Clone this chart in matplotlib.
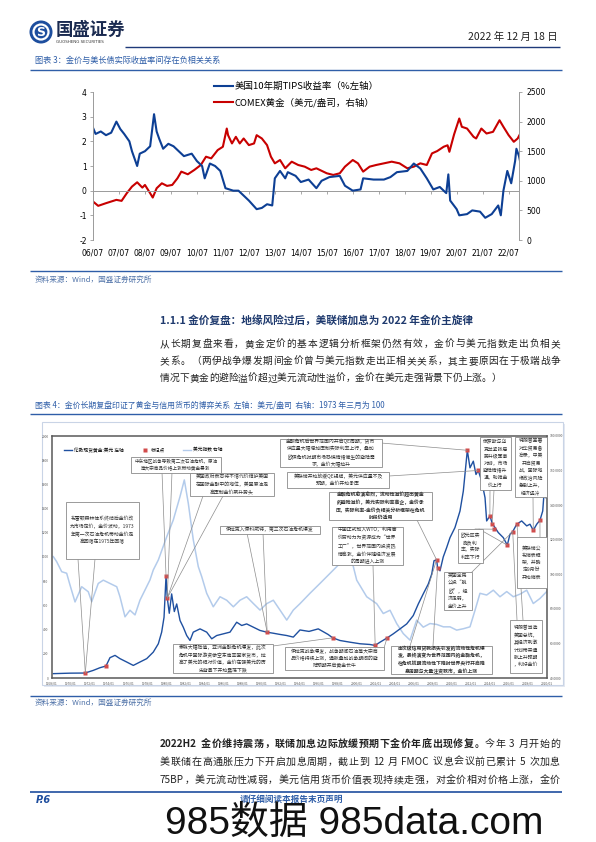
import matplotlib
matplotlib.use('Agg')
import matplotlib.pyplot as plt
from matplotlib.patches import Rectangle, Circle
from matplotlib.lines import Line2D

# ---------------------------------------------------------------
# 字体
# ---------------------------------------------------------------
CJK = ['Noto Sans CJK SC', 'DejaVu Sans']
plt.rcParams['font.family'] = CJK
plt.rcParams['axes.unicode_minus'] = False

# ---------------------------------------------------------------
# 数据: 图表3 (美国10年期TIPS收益率 / COMEX黄金)
# ---------------------------------------------------------------
tips_year = [2006.5, 2006.6, 2006.8, 2007.0, 2007.2, 2007.4, 2007.55, 2007.7, 2007.9, 2008.0,
             2008.1, 2008.2, 2008.3, 2008.5, 2008.7, 2008.85, 2008.95, 2009.05, 2009.2, 2009.4,
             2009.6, 2009.8, 2010.0, 2010.3, 2010.5, 2010.7, 2010.8, 2011.0, 2011.2, 2011.4,
             2011.6, 2011.9, 2012.1, 2012.3, 2012.5, 2012.8, 2013.0, 2013.2, 2013.4, 2013.5,
             2013.7, 2013.9, 2014.0, 2014.3, 2014.5, 2014.8, 2015.1, 2015.3, 2015.6, 2016.0,
             2016.2, 2016.5, 2016.8, 2016.9, 2017.3, 2017.7, 2017.95, 2018.2, 2018.6, 2018.85,
             2019.1, 2019.35, 2019.6, 2019.85, 2020.1, 2020.18, 2020.25, 2020.5, 2020.6, 2020.9,
             2021.1, 2021.4, 2021.6, 2021.85, 2022.1, 2022.2, 2022.3, 2022.45, 2022.6, 2022.75,
             2022.8, 2022.9, 2022.95]
tips_val = [2.55, 2.3, 2.4, 2.25, 2.35, 2.8, 2.5, 2.3, 2.0, 1.6,
            1.3, 1.0, 1.5, 1.6, 1.8, 3.1, 2.4, 2.1, 1.7, 1.9,
            1.8, 1.6, 1.4, 1.5, 1.2, 1.0, 0.5, 1.1, 1.0, 0.8,
            0.1, 0.0, 0.0, -0.2, -0.4, -0.75, -0.7, -0.55, -0.6, 0.5,
            0.8, 0.5, 0.75, 0.6, 0.35, 0.45, 0.1, 0.4, 0.55, 0.6,
            0.2, 0.0, 0.05, 0.5, 0.45, 0.45, 0.55, 0.75, 0.8, 1.1,
            0.9, 0.5, 0.05, 0.15, -0.1, 0.66, -0.4, -0.75, -1.0, -0.95,
            -0.8, -0.85, -1.1, -0.95, -0.6, -1.0, 0.0, 0.8, 0.3, 1.2,
            1.7, 1.4, 1.15]

comex_year = [2006.5, 2006.7, 2007.0, 2007.4, 2007.6, 2007.8, 2008.0, 2008.2, 2008.4, 2008.5,
              2008.7, 2008.8, 2008.95, 2009.15, 2009.35, 2009.55, 2009.75, 2009.9, 2010.15, 2010.4,
              2010.65, 2010.85, 2011.05, 2011.3, 2011.5, 2011.65, 2011.7, 2011.85, 2012.0, 2012.15,
              2012.3, 2012.5, 2012.7, 2012.8, 2013.0, 2013.2, 2013.35, 2013.5, 2013.7, 2013.9,
              2014.15, 2014.4, 2014.65, 2014.9, 2015.1, 2015.5, 2015.75, 2016.0, 2016.2, 2016.5,
              2016.7, 2016.9, 2017.15, 2017.4, 2017.7, 2018.0, 2018.3, 2018.6, 2018.85, 2019.1,
              2019.35, 2019.55, 2019.75, 2020.0, 2020.15, 2020.22, 2020.4, 2020.6, 2020.7, 2020.9,
              2021.15, 2021.25, 2021.45, 2021.65, 2021.9, 2022.15, 2022.3, 2022.5, 2022.7, 2022.85,
              2022.95]
comex_val = [650, 577, 622, 678, 661, 790, 902, 975, 885, 930,
             790, 717, 874, 958, 914, 930, 1042, 1155, 1110, 1183,
             1267, 1407, 1379, 1519, 1575, 1883, 1771, 1631, 1743, 1631,
             1715, 1603, 1631, 1771, 1715, 1603, 1407, 1295, 1351, 1211,
             1323, 1267, 1239, 1183, 1211, 1127, 1099, 1127, 1239, 1351,
             1295, 1155, 1239, 1267, 1295, 1323, 1295, 1211, 1239, 1295,
             1267, 1463, 1502, 1575, 1600, 1490, 1782, 2052, 1912, 1883,
             1743, 1715, 1883, 1799, 1827, 2023, 1912, 1771, 1659, 1715,
             1799]

c1_xticks = [2006.5 + k for k in range(17)]
c1_xlabels = ['%02d/07' % (6 + k) for k in range(17)]

# ---------------------------------------------------------------
# 数据: 图表4 (伦敦现货黄金 / 美元指数 / 标记点)
# ---------------------------------------------------------------
gold_year = [1968.14, 1969.9, 1971.47, 1972.34, 1973.04, 1973.67, 1974.09, 1974.62, 1975.14, 1975.85,
             1976.54, 1977.24, 1977.95, 1978.64, 1979.17, 1979.52, 1979.77, 1979.98, 1980.11, 1980.32,
             1980.57, 1980.85, 1981.1, 1981.45, 1981.79, 1982.15, 1982.5, 1982.84, 1983.55, 1984.25,
             1984.78, 1985.3, 1986.0, 1986.7, 1987.4, 1987.93, 1988.45, 1989.15, 1989.85, 1990.55,
             1991.25, 1991.95, 1992.66, 1993.35, 1994.05, 1995.0, 1995.97, 1997.0, 1997.49, 1998.25,
             1999.3, 2000.36, 2001.4, 2001.93, 2002.46, 2003.22, 2003.85, 2004.56, 2005.26, 2005.95,
             2006.48, 2007.0, 2007.53, 2007.89, 2008.13, 2008.41, 2008.5, 2008.76, 2009.1, 2009.46,
             2009.81, 2010.33, 2010.86, 2011.21, 2011.63, 2011.91, 2012.26, 2012.54, 2012.78, 2013.14,
             2013.49, 2013.66, 2014.01, 2014.25, 2014.54, 2014.88, 2015.41, 2015.83, 2016.11, 2016.4,
             2016.82, 2017.34, 2017.87, 2018.21, 2018.56, 2018.92, 2019.26, 2019.55, 2019.68, 2019.89]
gold_val = [36, 40, 41, 63, 85, 99, 168, 187, 160, 132,
            104, 132, 160, 214, 283, 379, 502, 845, 661, 535,
            695, 549, 612, 475, 420, 351, 310, 379, 406, 379,
            324, 351, 365, 379, 461, 434, 447, 420, 393, 379,
            370, 360, 351, 338, 397, 385, 406, 360, 332, 310,
            296, 283, 277, 269, 296, 332, 365, 406, 447, 516,
            612, 695, 777, 859, 969, 977, 913, 886, 1000, 1078,
            1160, 1243, 1380, 1545, 1882, 1737, 1792, 1682, 1715, 1627,
            1490, 1298, 1340, 1276, 1243, 1202, 1160, 1098, 1188, 1210,
            1271, 1298, 1257, 1271, 1221, 1271, 1304, 1380, 1518, 1490]

dxy_year = [1971.14, 1971.49, 1972.02, 1972.54, 1972.89, 1973.42, 1974.12, 1974.81, 1975.17, 1975.86,
            1976.39, 1977.09, 1977.8, 1978.14, 1978.67, 1979.19, 1979.72, 1980.24, 1980.77, 1981.29,
            1981.64, 1982.17, 1983.05, 1983.74, 1984.45, 1984.9, 1985.32, 1985.84, 1986.37, 1986.73,
            1987.25, 1987.94, 1988.65, 1989.35, 1990.05, 1990.75, 1991.45, 1992.15, 1992.85, 1993.55,
            1994.25, 1994.95, 1995.66, 1996.35, 1997.05, 1998.1, 1999.15, 2000.2, 2001.25, 2002.13,
            2003.01, 2004.06, 2005.11, 2005.8, 2006.51, 2007.21, 2007.9, 2008.61, 2009.31, 2010.0,
            2010.71, 2011.41, 2012.11, 2012.81, 2013.51, 2014.21, 2014.91, 2015.44, 2015.96, 2016.66,
            2017.36, 2018.06, 2018.77, 2019.46, 2020.16, 2020.87, 2021.56, 2022.26, 2022.97]
dxy_val = [110.2, 107.3, 101.5, 100.6, 93.8, 84, 92.8, 89.9, 84.1, 94.7,
           96.6, 94.7, 92.8, 87, 75.4, 79.2, 76.5, 85, 90.9, 96.7,
           102.5, 108.3, 121.7, 131.4, 145, 154.6, 141, 120, 104.4, 98.6,
           89, 81.2, 87, 85, 81.2, 85, 87, 83.1, 79.3, 83,
           85, 79.3, 73.5, 79.3, 83, 89, 94.7, 100.5, 106.3, 116,
           96.6, 87, 83, 77.3, 79.2, 71.5, 65.7, 61.9, 73.5, 69.4,
           71.5, 71, 69.6, 69.6, 67.7, 68.5, 69.6, 79.2, 89, 88,
           90.8, 87, 90, 87, 88.5, 90.8, 83.1, 86, 90]

mark_year = [1971.5, 1973.7, 1979.98, 1980.11, 1990.6, 1997.5, 2001.95, 2003.2, 2008.4, 2008.5,
             2011.63, 2012.78, 2014.0, 2014.25, 2014.4, 2015.83, 2016.4, 2016.85, 2018.56, 2019.26]
mark_val = [41, 99, 845, 661, 380, 332, 269, 332, 977, 913,
            1882, 1715, 1340, 1276, 1230, 1098, 1210, 1271, 1221, 1304]

c2_xticks = list(range(1968, 2021, 2))
c2_xlabels = ['%d/01' % y for y in c2_xticks]

# 颜色
BLUE_T = '#2f5ea8'
NAVY = '#1f3a6e'
C1_BLUE = '#0d3f94'
C1_RED = '#c80000'
G_BLUE = '#1f50a0'
D_BLUE = '#b3cbeb'
M_RED = '#d24b4b'

# ---------------------------------------------------------------
# 画布 (像素坐标: 596 x 842)
# ---------------------------------------------------------------
W, H = 596, 842
fig = plt.figure(figsize=(W / 100, H / 100), dpi=100)
pg = fig.add_axes([0, 0, 1, 1])
pg.set_xlim(0, W)
pg.set_ylim(H, 0)
pg.axis('off')
pg.set_zorder(10)
renderer = fig.canvas.get_renderer()


def rect_axes(x0, y0, x1, y1):
    return fig.add_axes([x0 / W, 1 - y1 / H, (x1 - x0) / W, (y1 - y0) / H])


def tokens(s):
    out, buf = [], ''
    for ch in s:
        if ch.isascii() and (ch.isalnum() or ch in '.%'):
            buf += ch
        else:
            if buf:
                out.append(buf)
                buf = ''
            out.append(ch)
    if buf:
        out.append(buf)
    return out


def jline(parts, x0, x1, y, fs, color='#222222', justify=True):
    """两端对齐的一行文字"""
    items = []
    for s, wt in parts:
        for t in tokens(s):
            if t == ' ':
                items.append((None, fs * 1.39 * 0.28))
                continue
            txt = pg.text(0, y, t, fontsize=fs, fontweight=wt, color=color,
                          ha='left', va='center')
            items.append((txt, txt.get_window_extent(renderer).width))
    total = sum(w for _, w in items)
    gap = (x1 - x0 - total) / (len(items) - 1) if justify else 0
    x = x0
    for txt, w in items:
        if txt is not None:
            txt.set_x(x)
        x += w + gap


# ---------------------------------------------------------------
# 页眉
# ---------------------------------------------------------------
pg.add_patch(Circle((41, 32), 11.5, fc='#1d4e9e', ec='none'))
pg.add_patch(Circle((41, 32), 7.5, fc='none', ec='white', lw=1.6))
pg.text(41, 32.5, 'S', color='white', fontsize=9, fontweight='bold', ha='center', va='center',
        family='DejaVu Sans')
pg.text(56, 30, '国盛证券', fontsize=12.5, fontweight='bold', color='#1a2a50', va='center')
pg.text(56, 42, 'GUOSHENG SECURITIES', fontsize=2.9, color='#333333', va='center', family='DejaVu Sans')
pg.text(558, 37, '2022 年 12 月 18 日', fontsize=7.5, color='#222222', ha='right', va='center')
pg.hlines(47, 125, 560, color='#1f3a7a', lw=1.0)

pg.text(35, 60, '图表 3：金价与美长债实际收益率间存在负相关关系', fontsize=5.9, color=BLUE_T, va='center')
pg.hlines(70, 30, 562, color='#2f5ea8', lw=1.0)

# ---------------------------------------------------------------
# 图表3
# ---------------------------------------------------------------
ax1 = rect_axes(93, 92, 519, 240)
ax1.plot(tips_year, tips_val, color=C1_BLUE, lw=1.5, label='美国10年期TIPS收益率（%左轴）')
ax1.set_xlim(2006.5, 2022.9)
ax1.set_ylim(-2, 4)
ax1.set_yticks(range(-2, 5))
ax1.set_xticks(c1_xticks)
ax1.set_xticklabels(c1_xlabels)
ax1.axhline(0, color='#9a9a9a', lw=0.7, zorder=0)
for s in ['top', 'bottom', 'right']:
    ax1.spines[s].set_visible(False)
ax1.spines['left'].set_color('#9a9a9a')
ax1.spines['left'].set_linewidth(0.7)
ax1.tick_params(axis='y', length=2.5, width=0.6, color='#9a9a9a', labelsize=5.5, pad=2)
ax1.tick_params(axis='x', length=0, labelsize=5.5, pad=6)
for lab in ax1.get_xticklabels() + ax1.get_yticklabels():
    lab.set_family('DejaVu Sans')
sec = ax1.secondary_xaxis(1 / 3)
sec.set_xticks(c1_xticks)
sec.set_xticklabels([])
sec.spines['bottom'].set_visible(False)
sec.tick_params(length=2.5, width=0.6, color='#9a9a9a', direction='out')

ax1r = ax1.twinx()
ax1r.plot(comex_year, comex_val, color=C1_RED, lw=1.5, label='COMEX黄金（美元/盎司，右轴）')
ax1r.set_ylim(0, 2500)
ax1r.set_yticks(range(0, 2501, 500))
for s in ['top', 'bottom', 'left']:
    ax1r.spines[s].set_visible(False)
ax1r.spines['right'].set_color('#9a9a9a')
ax1r.spines['right'].set_linewidth(0.7)
ax1r.tick_params(axis='y', length=2.5, width=0.6, color='#9a9a9a', labelsize=5.5, pad=3)
for lab in ax1r.get_yticklabels():
    lab.set_family('DejaVu Sans')
ax1.set_zorder(ax1r.get_zorder() + 1)
ax1.patch.set_visible(False)

h1, l1 = ax1.get_legend_handles_labels()
h2, l2 = ax1r.get_legend_handles_labels()
fig.legend(h1 + h2, l1 + l2, loc='upper left', bbox_to_anchor=(209 / W, 1 - 77 / H),
           bbox_transform=fig.transFigure, frameon=False, fontsize=6.8, handlelength=2.0,
           handletextpad=0.2, labelspacing=0.75, borderpad=0)

pg.hlines(271, 30, 562, color='#2f5ea8', lw=1.0)
pg.text(35, 280, '资料来源：Wind，国盛证券研究所', fontsize=5.5, color='#4f72a8', va='center')

# ---------------------------------------------------------------
# 正文 1
# ---------------------------------------------------------------
pg.text(160, 320, '1.1.1 金价复盘：地缘风险过后，美联储加息为 2022 年金价主旋律', fontsize=7.7,
        fontweight='bold', color=NAVY, va='center')
jline([('从长期复盘来看，黄金定价的基本逻辑分析框架仍然有效，金价与美元指数走出负相关', 'normal')],
      160, 560, 344, 7.0)
jline([('关系。（两伊战争爆发期间金价曾与美元指数走出正相关关系，其主要原因在于极端战争', 'normal')],
      160, 560, 361, 7.0)
jline([('情况下黄金的避险溢价超过美元流动性溢价，金价在美元走强背景下仍上涨。）', 'normal')],
      160, 560, 378, 7.0, justify=False)

pg.text(35, 405, '图表 4：金价长期复盘印证了黄金与信用货币的博弈关系  左轴：美元/盎司  右轴：1973 年三月为 100',
        fontsize=5.7, color=BLUE_T, va='center')
pg.hlines(414, 30, 562, color='#2f5ea8', lw=1.0)

# ---------------------------------------------------------------
# 图表4
# ---------------------------------------------------------------
fig.patches.append(Rectangle((44 / W, 1 - 687 / H), 521 / W, 263 / H, transform=fig.transFigure,
                             fc='#e4e9f1', ec='none', zorder=-2))
fig.patches.append(Rectangle((42 / W, 1 - 685 / H), 521 / W, 263 / H, transform=fig.transFigure,
                             fc='white', ec='#c9d4e6', lw=0.8, zorder=-1))

ax = rect_axes(52, 436, 547, 678)
axr = ax.twinx()
axd = axr.twiny()
axd.plot(dxy_year, dxy_val, color=D_BLUE, lw=1.1)
axd.set_xlim(1971, 2023)
axr.set_ylim(40, 180)
axd.set_xticks([])
axd.tick_params(top=False, labeltop=False)
for a in (axr, axd):
    a.patch.set_visible(False)
    for s in a.spines.values():
        s.set_visible(False)
axr.set_yticks(range(40, 181, 20))
axr.set_yticklabels(['%.4f' % v for v in range(40, 181, 20)])
axr.tick_params(axis='y', length=0, labelsize=2.4, pad=2, labelcolor='#555555')

ax.plot(gold_year, gold_val, color=G_BLUE, lw=1.0)
ax.plot(mark_year, mark_val, 's', color=M_RED, ms=2.4, mec='none')
ax.set_xlim(1968, 2020)
ax.set_ylim(0, 2000)
ax.set_yticks(range(0, 2001, 200))
ax.set_xticks(c2_xticks)
ax.set_xticklabels(c2_xlabels)
ax.tick_params(length=0, labelsize=2.3, labelcolor='#555555', pad=2.5)
for s in ax.spines.values():
    s.set_color('#595959')
    s.set_linewidth(1.1)
ax.set_zorder(axd.get_zorder() + 1)
ax.patch.set_visible(False)

leg_h = [Line2D([], [], color=G_BLUE, lw=1.0),
         Line2D([], [], marker='s', ls='none', color=M_RED, ms=2.4, mec='none'),
         Line2D([], [], color=D_BLUE, lw=1.0)]
ax.legend(leg_h, ['伦敦现货黄金:美元 左轴', '标记点', '美元指数 右轴'], loc='upper left',
          bbox_to_anchor=(62 / W, 1 - 445 / H), bbox_transform=fig.transFigure, ncol=3,
          frameon=False, fontsize=3.4, handlelength=1.6, columnspacing=3.8, borderpad=0,
          handletextpad=0.4)


def note(x0, y0, x1, y1, lines, fs=3.5, bold=False):
    pg.add_patch(Rectangle((x0, y0), x1 - x0, y1 - y0, fc='white', ec='#8a8a8a', lw=0.6))
    pg.text((x0 + x1) / 2, (y0 + y1) / 2, '\n'.join(lines), fontsize=fs, ha='center', va='center',
            linespacing=1.55, color='#333333', fontweight='bold' if bold else 'normal')


def lead(px, py, i):
    ax.annotate('', xy=(mark_year[i], mark_val[i]), xycoords='data', xytext=(px, py),
                textcoords=pg.transData, annotation_clip=False,
                arrowprops=dict(arrowstyle='-', color='#8c8c8c', lw=0.5, shrinkA=0, shrinkB=0))


# 指引线
lead(78, 559, 0); lead(95, 559, 0)
lead(162, 472, 2); lead(172, 472, 3)
lead(203, 496, 3); lead(223, 496, 3)
lead(247, 533, 4); lead(263, 533, 4)
lead(273, 646, 5)
lead(373, 565, 6); lead(384, 648, 7)
lead(410, 646, 8); lead(433, 646, 9)
lead(417, 520, 8)
lead(381, 443, 10)
lead(389, 476, 11)
lead(490, 490, 12); lead(494, 490, 13)
lead(475, 529, 14); lead(479, 529, 15)
lead(471, 573, 16)
lead(517, 620, 16); lead(523, 620, 17)
lead(533, 497, 18)
lead(540, 537, 19)

# 注释框
note(131, 457, 221, 472.5, ['中东地区战争导致第二次石油危机，原油', '等大宗商品价格上涨带动黄金暴涨'], fs=3.3)
note(190, 473, 274, 496, ['美国政府表态将不惜代价维护美国', '在国际金融中的地位，美国原油走', '高压制金价飙升势头'])
note(66, 502, 139, 559, ['布雷顿森林体系终结后金价改', '为市场定价，金价波动，1973', '年第一次石油危机带动金价走', '高回落在1975年回落'])
note(220, 526, 320, 533.5, ['伊拉克入侵科威特，第三次石油危机爆发'])
note(173, 644, 273, 673, ['泰铢大幅贬值，亚洲金融危机爆发，此次', '危机中国际游资做空东南亚国家货币，拉',
                          '高了美元的相对价值，金价在强美元的历', '史背景下开始震荡下跌'])
note(285, 647, 384, 670, ['伊拉克战争爆发，战争期间石油等大宗商', '品价格持续上涨，通胀叠加战争期间的避',
                          '险预期开启黄金长牛'])
note(332, 527, 403, 565, ['中国正式加入WTO，利用廉', '价劳动力为资源成为“世界', '工厂”，世界范围内投资热',
                          '情高涨，金价伴随经济发展', '的周期进入上涨'])
note(391, 646, 492, 674, ['由次级信用贷款损失引发的流动性危机爆', '发，最终演变为世界范围内的金融危机，',
                          '在危机初期流动性下降时世界央行开启降', '息周期与大量注资救市，金价上涨'], bold=True)
note(329, 492, 432, 520, ['金融危机愈演愈烈，流动性溢价超出黄金', '的避险溢价，美元实际利率高企，金价承',
                          '压，实际利率-金价负相关分析框架在危机', '时段仍适用'], bold=True)
note(280, 439, 382, 467, ['金融危机后世界范围内开启QE周期，货币', '供应量大幅增加压制实际利率上行，叠加',
                          '欧债危机时期市场恐慌情绪催生的避险需', '求，金价大幅拉升'])
note(287, 472, 389, 488, ['美联储开始放缓QE规模，美元供应量不及', '预期，金价开始承压'])
note(480, 437, 511, 490, ['俄罗斯与乌', '克兰紧张局', '势升级军事', '对峙，市场', '避险情绪升', '温，助推金', '价上行'])
note(515, 437, 547, 497, ['特朗普签署', '对华贸易备', '忘录，中美', '开启贸易', '战，国际地', '缘政治风险',
                          '急剧上升，', '经济遇冷'])
note(458, 529, 483, 563, ['欧元区实', '施负利', '率，实际', '利率下行'])
note(517, 537, 547, 588, ['美联储公', '布缩表框', '架，并确', '定9月份', '开始缩表'])
note(510, 620, 542, 673, ['特朗普当选', '美国总统，', '其经济刺激', '计划带来通', '胀上升预期', '，利好金价'])
note(444, 572, 472, 610, ['英国全民', '公投“脱', '欧”，经', '济走弱，', '金价上升'])

pg.hlines(696, 30, 562, color='#2f5ea8', lw=1.0)
pg.text(35, 703, '资料来源：Wind，国盛证券研究所', fontsize=5.5, color='#4f72a8', va='center')

# ---------------------------------------------------------------
# 正文 2
# ---------------------------------------------------------------
jline([('2022H2 金价维持震荡，联储加息边际放缓预期下金价年底出现修复。', 'bold'),
       ('今年 3 月开始的', 'normal')], 160, 560, 744, 7.2)
jline([('美联储在高通胀压力下开启加息周期，截止到 12 月 FMOC 议息会议前已累计 5 次加息', 'normal')],
      160, 560, 762, 7.2)
jline([('75BP，美元流动性减弱，美元信用货币价值表现持续走强，对金价相对价格上涨，金价', 'normal')],
      160, 560, 780, 7.2)

# ---------------------------------------------------------------
# 页脚
# ---------------------------------------------------------------
pg.hlines(792, 30, 562, color='#1f4e9e', lw=1.2)
pg.text(36, 800, 'P.6', fontsize=7, fontweight='bold', style='italic', color='#1f4e9e', va='center',
        family='DejaVu Sans')
pg.text(291, 799.5, '请仔细阅读本报告末页声明', fontsize=6.2, fontweight='bold', color='#2f5ea8',
        ha='center', va='center')
pg.text(165, 835, '985数据 985data.com', fontsize=28, color='#111111', ha='left', va='baseline',
        family=['Liberation Sans', 'Noto Sans CJK SC'])

fig.savefig('out.png', dpi=100)
